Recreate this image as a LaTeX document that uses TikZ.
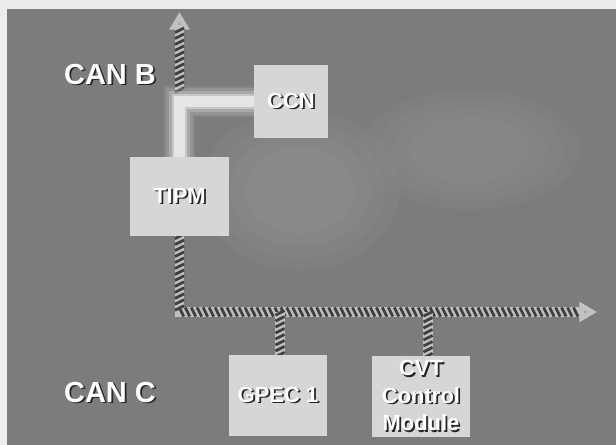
\documentclass[tikz,border=0pt]{standalone}
\usepackage{fontspec}
\setmainfont{Liberation Sans}
\usetikzlibrary{positioning,arrows.meta,decorations.markings}

\definecolor{panelgray}{RGB}{124,124,124}
\definecolor{boxgray}{RGB}{214,214,214}
\definecolor{tipgray}{RGB}{170,170,170}

\pgfdeclarelayer{panel}
\pgfdeclarelayer{cables}
\pgfsetlayers{panel,cables,main}

\newcommand{\embtext}[1]{\leavevmode\rlap{\kern1pt\raisebox{-1pt}{\textcolor{black!85}{#1}}}\textcolor{white}{#1}}

\tikzset{
  module/.style={fill=boxgray, inner sep=0pt, align=center,
    font=\bfseries\fontsize{12.5}{15.5}\selectfont},
  busname/.style={font=\bfseries\fontsize{16.5}{18}\selectfont},
  twisted/.style={line width=5.6pt, draw=boxgray!90!black,
    postaction={decorate, decoration={markings,
      mark=between positions 0 and #1 step 3.4pt with
        {\draw[-, line width=1.6pt, black!75] (-1.3pt,2.6pt) -- (1.3pt,-2.6pt);}}}},
  twisted/.default=1,
  bustip/.style={-{Triangle[length=10pt,width=11pt,fill=tipgray]}},
  glow/.style={draw=white, line cap=round}
}

\begin{document}
\begin{tikzpicture}[x=0.02cm, y=-0.02cm]
  \useasboundingbox (0,0) rectangle (616,445);

  \node[busname] (canb) at (110,75) {\embtext{CAN B}};
  \node[busname] (canc) at (110,393) {\embtext{CAN C}};

  \node[module, minimum width=1.98cm, minimum height=1.58cm] (tipm) at (179.5,196.5) {\embtext{TIPM}};
  \node[module, minimum width=1.48cm, minimum height=1.46cm] (ccn) at (291,101.5) {\embtext{CCN}};
  \node[module, minimum width=1.96cm, minimum height=1.62cm] (gpec) at (278,395.5) {\embtext{GPEC 1}};
  \node[module, minimum width=1.96cm, minimum height=1.62cm] (cvt) at (421,396.5)
    {\embtext{CVT}\\\embtext{Control}\\\embtext{Module}};

  \coordinate (bbase) at (179.5,90);
  \coordinate (btop) at (179.5,12);
  \coordinate (cend) at (597,312);

  % panel and faint background
  \begin{pgfonlayer}{panel}
    \fill[black!7] (0,0) rectangle (616,445);
    \fill[panelgray] (7,9) rectangle (616,445);
    \foreach \r in {1,0.85,0.7,0.55} {
      \fill[white, opacity=0.03] (300,190) ellipse ({100*\r} and {80*\r});
      \fill[white, opacity=0.025] (470,150) ellipse ({110*\r} and {60*\r});
    }
  \end{pgfonlayer}

  \begin{pgfonlayer}{cables}
    % CAN B
    \draw[twisted=-9pt, bustip] (bbase) -- (btop);
    \foreach \w/\o in {18/0.08,15/0.12,12/0.2,9/0.35,6/0.55} {
      \draw[glow, line width=\w pt, opacity=\o] (tipm.north) |- (ccn.west);
    }
    % CAN C
    \draw[twisted=-9pt, bustip] (tipm.south) |- (cend);
    \draw[twisted] (gpec.north -| 280,0) -- (280,312);
    \draw[twisted] (cvt.north -| 428,0) -- (428,312);
  \end{pgfonlayer}
\end{tikzpicture}
\end{document}
